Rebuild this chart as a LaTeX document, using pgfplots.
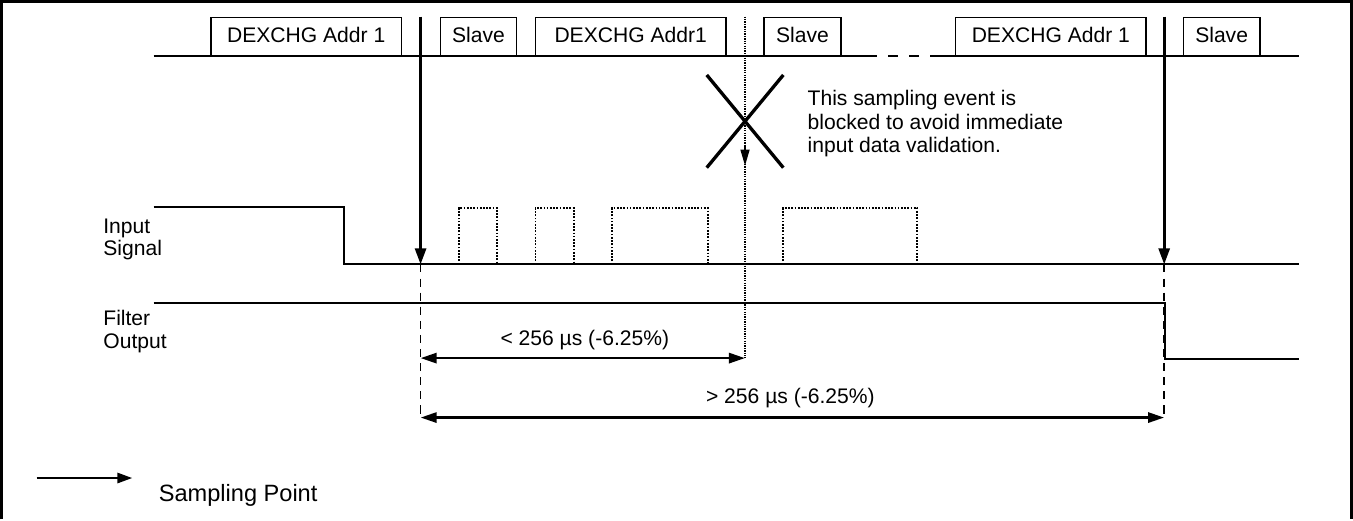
\documentclass[border=0pt]{standalone}
\usepackage{fontspec}
\setmainfont{Liberation Sans}
\usepackage{pgfplots}
\pgfplotsset{compat=1.18}
\usetikzlibrary{arrows.meta}

\tikzset{
  lbl/.style={font=\fontsize{21}{25}\selectfont, inner sep=0pt},
  sig/.style={black, line width=2.1bp},
  box/.style={black, line width=1.5bp},
  pulse/.style={black, line width=1.7bp, dash pattern=on 1.7bp off 1.5bp},
  guide/.style={black, line width=1.7bp, dash pattern=on 8bp off 6bp},
  samp/.style={black, line width=2.7bp, -{Triangle[length=16bp,width=11bp]}},
  meas/.style={black, line width=2.7bp, {Triangle[length=16bp,width=10bp]}-{Triangle[length=16bp,width=10bp]}},
}

\begin{document}
\begin{tikzpicture}
\begin{axis}[
  width=1353bp, height=521bp, scale only axis,
  xmin=0, xmax=1353, ymin=0, ymax=521, y dir=reverse,
  hide axis, clip=false,
  cycle list={{black, mark=none}},
]
% frame (bottom edge is cut off)
\addplot[black, line width=2.8bp] coordinates {(7,521) (7,7) (1347,7) (1347,521)};

% top bus
\addplot[sig] coordinates {(158,61) (866,61)};
\addplot[sig, dash pattern=on 10bp off 11bp] coordinates {(866,61) (930,61)};
\addplot[sig] coordinates {(930,61) (1295,61)};

% frames on the bus
\addplot[box] coordinates {(215,61) (215,23) (404,23) (404,61)};
\addplot[box] coordinates {(443,61) (443,23) (518,23) (518,61)};
\addplot[box] coordinates {(537,61) (537,23) (726,23) (726,61)};
\addplot[box] coordinates {(764,61) (764,23) (840,23) (840,61)};
\addplot[box] coordinates {(954,61) (954,23) (1143,23) (1143,61)};
\addplot[box] coordinates {(1180,61) (1180,23) (1256,23) (1256,61)};
\node[lbl, anchor=base] at (axis cs:309.5,48) {DEXCHG Addr 1};
\node[lbl, anchor=base] at (axis cs:480.5,48) {Slave};
\node[lbl, anchor=base] at (axis cs:631.5,48) {DEXCHG Addr1};
\node[lbl, anchor=base] at (axis cs:802,48) {Slave};
\node[lbl, anchor=base] at (axis cs:1048.5,48) {DEXCHG Addr 1};
\node[lbl, anchor=base] at (axis cs:1218,48) {Slave};

% input signal
\addplot[sig] coordinates {(158,211) (347,211) (347,268) (1295,268)};
\addplot[pulse] coordinates {(461,268) (461,212) (499,212) (499,268)};
\addplot[pulse] coordinates {(537,268) (537,212) (575,212) (575,268)};
\addplot[pulse] coordinates {(613,268) (613,212) (708,212) (708,268)};
\addplot[pulse] coordinates {(783,268) (783,212) (916,212) (916,268)};

% filter output
\addplot[sig] coordinates {(158,306) (1162,306) (1162,362) (1295,362)};

% sampling points
\addplot[samp] coordinates {(423,22) (423,268)};
\addplot[samp] coordinates {(1161,22) (1161,268)};
\addplot[black, line width=1.4bp, dash pattern=on 1.3bp off 1.1bp] coordinates {(745,22) (745,361)};
\addplot[black, line width=1.4bp, -{Triangle[length=16bp,width=9bp]}] coordinates {(745,150) (745,170)};

% blocked event cross
\addplot[black, line width=3.3bp] coordinates {(707,80) (783,172)};
\addplot[black, line width=3.3bp] coordinates {(783,80) (707,172)};
\node[lbl, anchor=base west] at (axis cs:807,110) {This sampling event is};
\node[lbl, anchor=base west] at (axis cs:807,134) {blocked to avoid immediate};
\node[lbl, anchor=base west] at (axis cs:807,157) {input data validation.};

% dashed guides
\addplot[guide] coordinates {(423,268) (423,420)};
\addplot[guide] coordinates {(1161,268) (1161,420)};

% measurements
\addplot[meas] coordinates {(423,361) (745,361)};
\addplot[meas] coordinates {(423,420) (1161,420)};
\node[lbl, anchor=base] at (axis cs:586,348) {< 256 µs (-6.25\%)};
\node[lbl, anchor=base] at (axis cs:790,406) {> 256 µs (-6.25\%)};

% signal labels
\node[lbl, anchor=base west] at (axis cs:108,237) {Input};
\node[lbl, anchor=base west] at (axis cs:108,259) {Signal};
\node[lbl, anchor=base west] at (axis cs:108,329) {Filter};
\node[lbl, anchor=base west] at (axis cs:108,351) {Output};

% legend
\addplot[black, line width=2.7bp, -{Triangle[length=15bp,width=10bp]}] coordinates {(42,480) (137,480)};
\node[font=\fontsize{23.5}{28}\selectfont, inner sep=0pt, anchor=base west] at (axis cs:163,503) {Sampling Point};
\end{axis}
\end{tikzpicture}
\end{document}
